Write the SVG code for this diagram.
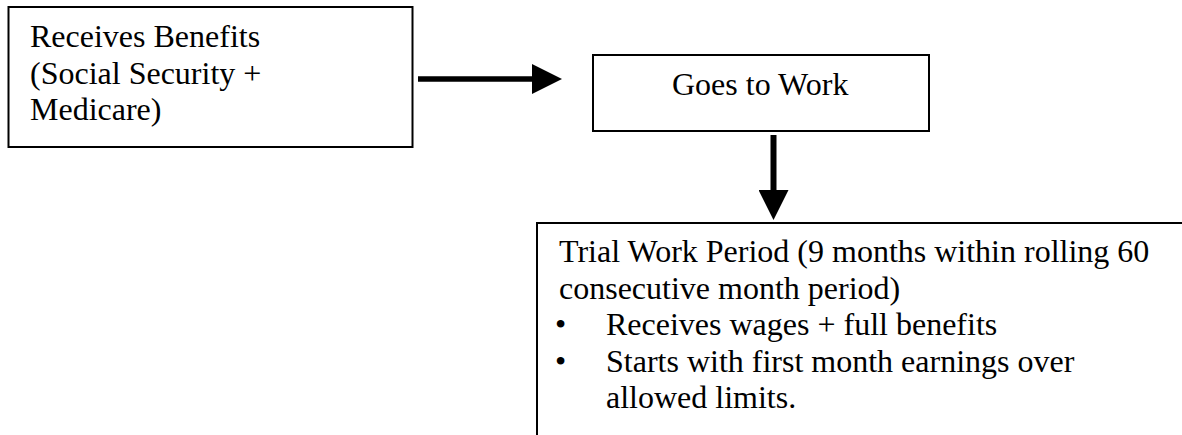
<svg xmlns="http://www.w3.org/2000/svg" width="1182" height="435" viewBox="0 0 1182 435">
  <style>
    .box { fill: #ffffff; stroke: #000000; stroke-width: 2; }
    .t { font-family: "Liberation Serif", "Times New Roman", serif; font-size: 32px; fill: #000000; }
    .conn { stroke: #000000; fill: none; }
  </style>
  <defs>
    <marker id="ah" markerUnits="userSpaceOnUse" markerWidth="30" markerHeight="30" refX="0" refY="15" orient="auto" viewBox="0 0 30 30">
      <path d="M0,0 L30,15 L0,30 Z" fill="#000000"/>
    </marker>
  </defs>
  <rect width="1182" height="435" fill="#ffffff"/>
  <g id="node-benefits">
    <rect class="box" x="8.5" y="7" width="404" height="140"/>
    <text class="t" x="30" y="46.5">Receives Benefits</text>
    <text class="t" x="30" y="83.5">(Social Security +</text>
    <text class="t" x="30" y="120">Medicare)</text>
  </g>
  <g id="node-work">
    <rect class="box" x="593" y="55" width="336" height="76"/>
    <text class="t" x="672" y="95">Goes to Work</text>
  </g>
  <g id="node-trial">
    <rect class="box" x="537" y="223" width="700" height="260"/>
    <text class="t" x="559" y="262">Trial Work Period (9 months within rolling 60</text>
    <text class="t" x="559" y="298.5">consecutive month period)</text>
    <text class="t" x="555" y="335">•</text>
    <text class="t" x="606" y="335">Receives wages + full benefits</text>
    <text class="t" x="555" y="371.5">•</text>
    <text class="t" x="606" y="371.5">Starts with first month earnings over</text>
    <text class="t" x="606" y="408">allowed limits.</text>
  </g>
  <g id="connectors">
    <line class="conn" x1="418" y1="79" x2="532" y2="79" stroke-width="5.5" marker-end="url(#ah)"/>
    <line class="conn" x1="773.5" y1="135" x2="773.5" y2="190" stroke-width="6" marker-end="url(#ah)"/>
  </g>
</svg>
